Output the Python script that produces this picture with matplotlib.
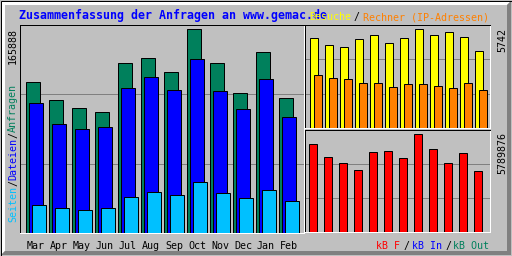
import matplotlib
matplotlib.use('Agg')
import matplotlib.pyplot as plt
import matplotlib.transforms as mtransforms
from matplotlib.patches import Polygon, Rectangle
import numpy as np

# Webalizer-Jahresübersicht
monate = ['Mar', 'Apr', 'May', 'Jun', 'Jul', 'Aug', 'Sep', 'Oct', 'Nov', 'Dec', 'Jan', 'Feb']
anfragen = [122790, 108150, 101650, 98390, 138240, 142310, 130920, 165888, 138240, 113840, 147180, 109780]
dateien = [105710, 88640, 84570, 86200, 117910, 126850, 116280, 141490, 115470, 100830, 125230, 94330]
seiten = [22770, 20330, 18700, 20330, 29270, 33340, 30900, 41470, 32530, 28460, 34970, 26020]
besuche = [5220, 4814, 4698, 5162, 5394, 4930, 5220, 5742, 5394, 5568, 5278, 4466]
rechner = [3074, 2900, 2842, 2610, 2610, 2378, 2552, 2552, 2436, 2320, 2610, 2204]
kb_f = [5198000, 4431000, 4077000, 3663000, 4726000, 4786000, 4372000, 5789876, 4904000, 4077000, 4667000, 3604000]

GRAU = '#C0C0C0'
DUNKEL = '#808080'
GRUEN = '#00805C'
BLAU = '#0000FF'
HELLBLAU = '#00C0FF'
GELB = '#FFFF00'
ORANGE = '#FF8000'
ROT = '#FF0000'
MONO = 'DejaVu Sans Mono'
LW = 0.72

fig = plt.figure(figsize=(5.12, 2.56), dpi=100)
fig.patch.set_facecolor(GRAU)

# Hintergrund in Pixelkoordinaten
bg = fig.add_axes([0, 0, 1, 1])
bg.set_xlim(0, 512)
bg.set_ylim(256, 0)
bg.axis('off')

b = 4
bg.add_patch(Polygon([(1, 255), (1, 1), (511, 1), (511 - b, 1 + b), (1 + b, 1 + b), (1 + b, 255 - b)],
                     closed=True, fc='white', ec='none'))
bg.add_patch(Polygon([(511, 1), (511, 255), (1, 255), (1 + b, 255 - b), (511 - b, 255 - b), (511 - b, 1 + b)],
                     closed=True, fc=DUNKEL, ec='none'))
bg.add_patch(Rectangle((0.5, 0.5), 511, 255, fill=False, ec='black', lw=LW))


def panel(x0, y0, x1, y1):
    ax = fig.add_axes([x0 / 512, 1 - y1 / 256, (x1 - x0) / 512, (y1 - y0) / 256])
    ax.set_facecolor('none')
    ax.set_xticks([])
    ax.set_yticks([])
    for s in ['left', 'top']:
        ax.spines[s].set_color('black')
        ax.spines[s].set_linewidth(LW)
    for s in ['right', 'bottom']:
        ax.spines[s].set_color('white')
        ax.spines[s].set_linewidth(LW)
    return ax


x = np.arange(len(monate))

# Hauptdiagramm: Anfragen / Dateien / Seiten
ax1 = panel(20, 25, 304, 233)
ax1.set_xlim(-6 / 23, 278 / 23)
top1 = max(anfragen) * 208 / 204
ax1.set_ylim(0, top1)
for f in (1 / 3, 2 / 3):
    ax1.axhline(top1 * f, color=DUNKEL, lw=LW, zorder=0)
ax1.bar(x, anfragen, width=14 / 23, align='edge', color=GRUEN, edgecolor='black', lw=LW)
ax1.bar(x + 3 / 23, dateien, width=14 / 23, align='edge', color=BLAU, edgecolor='black', lw=LW)
ax1.bar(x + 6 / 23, seiten, width=14 / 23, align='edge', color=HELLBLAU, edgecolor='black', lw=LW)

trans = mtransforms.blended_transform_factory(ax1.transData, bg.transData)
for i, m in enumerate(monate):
    ax1.text(i + 10 / 23, 249, m, transform=trans, ha='center', va='baseline',
             fontsize=7.2, family=MONO, color='black', clip_on=False)

# Besuche / Rechner
ax2 = panel(305, 25, 490, 128)
ax2.set_xlim(-5 / 15, 180 / 15)
top2 = max(besuche) * 103 / 99
ax2.set_ylim(0, top2)
for f in (1 / 3, 2 / 3):
    ax2.axhline(top2 * f, color=DUNKEL, lw=LW, zorder=0)
ax2.bar(x, besuche, width=8 / 15, align='edge', color=GELB, edgecolor='black', lw=LW)
ax2.bar(x + 4 / 15, rechner, width=8 / 15, align='edge', color=ORANGE, edgecolor='black', lw=LW)

# kB
ax3 = panel(305, 130, 490, 232)
ax3.set_xlim(-4 / 15, 181 / 15)
top3 = max(kb_f) * 102 / 98
ax3.set_ylim(0, top3)
for f in (1 / 3, 2 / 3):
    ax3.axhline(top3 * f, color=DUNKEL, lw=LW, zorder=0)
ax3.bar(x, kb_f, width=8 / 15, align='edge', color=ROT, edgecolor='black', lw=LW)

# Texte
bg.text(19, 19, 'Zusammenfassung der Anfragen an www.gemac.de', color=BLAU,
        fontsize=8.4, weight='bold', family=MONO, va='baseline', zorder=5)
for s, xp, c in [('Besuche', 309, GELB), ('/', 354, 'black'), ('Rechner (IP-Adressen)', 363, ORANGE)]:
    bg.text(xp, 20, s, color=c, fontsize=7.2, family=MONO, va='baseline', zorder=6)

bg.text(13, 28, '165888', rotation=90, ha='center', va='top', fontsize=7.2, family=MONO, color='black')
for s, yp, c in [('Seiten', 222, HELLBLAU), ('/', 186, 'black'), ('Dateien', 180, BLAU),
                 ('/', 138, 'black'), ('Anfragen', 132, GRUEN)]:
    bg.text(13, yp, s, rotation=90, ha='center', va='bottom', fontsize=7.2, family=MONO, color=c)

bg.text(502, 28, '5742', rotation=90, ha='center', va='top', fontsize=7.2, family=MONO, color='black')
bg.text(502, 132, '5789876', rotation=90, ha='center', va='top', fontsize=7.2, family=MONO, color='black')

for s, xp, c in [('kB F', 376, ROT), ('/', 403, 'black'), ('kB In', 412, BLAU),
                 ('/', 445, 'black'), ('kB Out', 453, GRUEN)]:
    bg.text(xp, 249, s, color=c, fontsize=7.2, family=MONO, va='baseline')

fig.savefig('out.png', dpi=100, facecolor=GRAU)
